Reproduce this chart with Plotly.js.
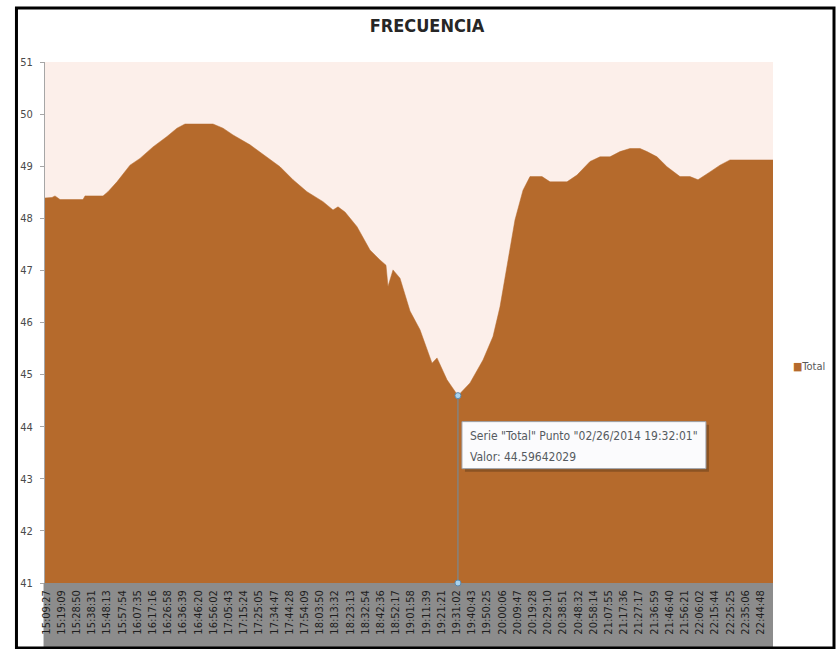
<!DOCTYPE html>
<html>
<head>
<meta charset="utf-8">
<script src="https://cdn.plot.ly/plotly-3.0.1.min.js"></script>
<style>
  html, body { margin: 0; padding: 0; background: #ffffff; }
  #chart { width: 839px; height: 649px; }
</style>
</head>
<body>
<div id="chart"></div>
<script>
// Grid frequency readings, 26 Feb 2014
const day = "2014-02-26";

const times = [
  "15:08:49", "15:13:17", "15:15:11", "15:18:23", "15:33:02", "15:34:19",
  "15:45:47", "15:48:58", "15:54:42", "16:03:00", "16:09:22", "16:17:39",
  "16:26:35", "16:32:57", "16:38:03", "16:55:54", "17:02:16", "17:08:39",
  "17:19:29", "17:30:18", "17:38:36", "17:46:53", "17:55:48", "18:06:00",
  "18:12:23", "18:15:34", "18:20:02", "18:27:41", "18:35:57", "18:42:20",
  "18:46:09", "18:47:26", "18:50:37", "18:55:05", "19:01:27", "19:07:50",
  "19:15:29", "19:18:40", "19:25:02", "19:32:01", "19:39:42", "19:47:59",
  "19:54:21", "19:58:49", "20:03:17", "20:08:23", "20:13:29", "20:17:56",
  "20:25:35", "20:30:41", "20:41:31", "20:47:54", "20:56:11", "21:02:33",
  "21:08:56", "21:15:18", "21:21:41", "21:28:03", "21:32:30", "21:38:53",
  "21:45:15", "21:53:32", "21:59:55", "22:05:01", "22:12:39", "22:19:02",
  "22:25:24", "22:52:49"
];

const freq = [
  48.39, 48.40, 48.43, 48.36, 48.36, 48.43,
  48.43, 48.51, 48.70, 49.02, 49.15, 49.37,
  49.57, 49.73, 49.81, 49.81, 49.73, 49.60,
  49.41, 49.18, 48.99, 48.74, 48.51, 48.32,
  48.16, 48.22, 48.12, 47.84, 47.39, 47.20,
  47.10, 46.69, 47.01, 46.85, 46.22, 45.86,
  45.22, 45.32, 44.90, 44.59642029, 44.84, 45.28,
  45.73, 46.30, 47.07, 47.97, 48.54, 48.80,
  48.80, 48.70, 48.70, 48.83, 49.09, 49.18,
  49.18, 49.28, 49.34, 49.34, 49.28, 49.18,
  48.99, 48.80, 48.80, 48.74, 48.89, 49.02,
  49.12, 49.12
];

const tickTimes = [
  "15:09:27", "15:19:09", "15:28:50", "15:38:31", "15:48:13", "15:57:54",
  "16:07:35", "16:17:16", "16:26:58", "16:36:39", "16:46:20", "16:56:02",
  "17:05:43", "17:15:24", "17:25:05", "17:34:47", "17:44:28", "17:54:09",
  "18:03:50", "18:13:32", "18:23:13", "18:32:54", "18:42:36", "18:52:17",
  "19:01:58", "19:11:39", "19:21:21", "19:31:02", "19:40:43", "19:50:25",
  "20:00:06", "20:09:47", "20:19:28", "20:29:10", "20:38:51", "20:48:32",
  "20:58:14", "21:07:55", "21:17:36", "21:27:17", "21:36:59", "21:46:40",
  "21:56:21", "22:06:02", "22:15:44", "22:25:25", "22:35:06", "22:44:48"
];

const seriesName = "Total";
const yMin = 41, yMax = 51;

const stamp = t => day + " " + t;
const x = times.map(stamp);

// lowest reading, highlighted with a drop line and a data-tip box
let iMin = 0;
freq.forEach((v, i) => { if (v < freq[iMin]) iMin = i; });
const xMin = x[iMin], vMin = freq[iMin];
const [yy, mm, dd] = day.split("-");
const tipLine1 = 'Serie "' + seriesName + '" Punto "' + mm + "/" + dd + "/" + yy + " " + times[iMin] + '"';
const tipLine2 = "Valor: " + vMin;

const narrow = "Liberation Sans Narrow, DejaVu Sans Condensed, Arial Narrow, sans-serif";
const areaColor = "#b56a2c";

const traces = [
  {
    type: "scatter",
    mode: "lines",
    name: seriesName,
    x: x,
    y: freq,
    fill: "tozeroy",
    fillcolor: areaColor,
    line: { color: areaColor, width: 0.5 },
    hoverinfo: "x+y",
    showlegend: false
  },
  {
    type: "scatter",
    mode: "lines+markers",
    x: [xMin, xMin],
    y: [yMin, vMin],
    line: { color: "#6f8fa6", width: 1 },
    marker: { size: 6, color: "#a9d3ee", line: { color: "#5a88ad", width: 1 } },
    cliponaxis: false,
    hoverinfo: "skip",
    showlegend: false
  }
];

const layout = {
  width: 839,
  height: 649,
  margin: { l: 45, r: 66, t: 62, b: 66 },
  paper_bgcolor: "#ffffff",
  plot_bgcolor: "#fcefea",
  showlegend: false,
  title: {
    text: "<b>FRECUENCIA</b>",
    font: { family: narrow, size: 18, color: "#262626" },
    xref: "container", x: 0.509, xanchor: "center",
    yref: "container", y: 0.961, yanchor: "middle"
  },
  xaxis: {
    type: "date",
    range: [x[0], x[x.length - 1]],
    tickmode: "array",
    tickvals: tickTimes.map(stamp),
    ticktext: tickTimes,
    tickangle: -90,
    tickfont: { family: narrow, size: 11, color: "#1e1e1e" },
    ticks: "",
    ticklabelstandoff: 4,
    showgrid: false,
    zeroline: false,
    showline: false,
    fixedrange: true
  },
  yaxis: {
    range: [yMin, yMax],
    dtick: 1,
    tick0: yMin,
    ticks: "outside",
    ticklen: 4,
    tickcolor: "#a6a6a6",
    tickfont: { family: narrow, size: 11, color: "#4a4a4a" },
    ticklabelstandoff: 5,
    showline: true,
    linecolor: "#a6a6a6",
    linewidth: 1,
    showgrid: false,
    zeroline: false,
    fixedrange: true
  },
  shapes: [
    // grey band behind the category labels
    {
      type: "rect", layer: "below",
      xref: "paper", yref: "paper",
      x0: -0.002, x1: 1, y0: -0.13, y1: 0,
      fillcolor: "#8c8c8c", line: { width: 0 }
    },
    // data-tip shadow
    {
      type: "rect", layer: "above",
      xref: "x", xsizemode: "pixel", xanchor: xMin, x0: 7, x1: 251,
      yref: "y", ysizemode: "pixel", yanchor: vMin, y0: -76, y1: -29,
      fillcolor: "rgba(60,40,20,0.35)", line: { width: 0 }
    },
    // data-tip box
    {
      type: "rect", layer: "above",
      xref: "x", xsizemode: "pixel", xanchor: xMin, x0: 4, x1: 248,
      yref: "y", ysizemode: "pixel", yanchor: vMin, y0: -73, y1: -26,
      fillcolor: "#fbfbfd", line: { color: "#9da3ab", width: 1 }
    },
    // chart frame
    {
      type: "rect", layer: "above",
      xref: "paper", yref: "paper",
      x0: -0.0392, x1: 1.0838, y0: -0.1248, y1: 1.1036,
      line: { color: "#000000", width: 3 }
    }
  ],
  annotations: [
    {
      xref: "x", yref: "y", x: xMin, y: vMin,
      xanchor: "left", yanchor: "middle", xshift: 10, yshift: -40,
      showarrow: false, text: tipLine1,
      font: { family: narrow, size: 12, color: "#555a60" }
    },
    {
      xref: "x", yref: "y", x: xMin, y: vMin,
      xanchor: "left", yanchor: "middle", xshift: 10, yshift: -61,
      showarrow: false, text: tipLine2,
      font: { family: narrow, size: 12, color: "#555a60" }
    },
    // series key
    {
      xref: "paper", yref: "paper", x: 1.025, y: 0.4165,
      xanchor: "left", yanchor: "middle", showarrow: false,
      text: '<span style="color:' + areaColor + '">■</span>' + seriesName,
      font: { family: narrow, size: 11, color: "#595959" }
    }
  ]
};

Plotly.newPlot("chart", traces, layout, { displayModeBar: false, staticPlot: true });
</script>
</body>
</html>
